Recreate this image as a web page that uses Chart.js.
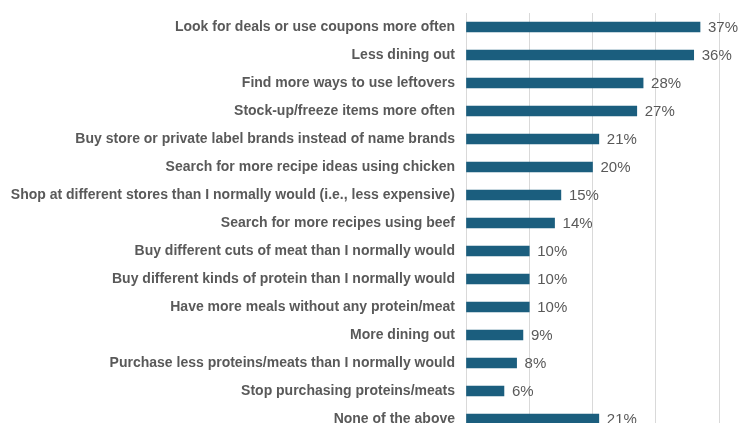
<!DOCTYPE html>
<html>
<head>
<meta charset="utf-8">
<script src="https://cdn.jsdelivr.net/npm/chart.js@4/dist/chart.umd.min.js"></script>
<style>
  html, body { margin: 0; padding: 0; background: #fff; overflow: hidden; }
  canvas { display: block; }
</style>
</head>
<body>
<canvas id="myChart" width="754" height="436"></canvas>
<script>
var labels = [
  'Look for deals or use coupons more often',
  'Less dining out',
  'Find more ways to use leftovers',
  'Stock-up/freeze items more often',
  'Buy store or private label brands instead of name brands',
  'Search for more recipe ideas using chicken',
  'Shop at different stores than I normally would (i.e., less expensive)',
  'Search for more recipes using beef',
  'Buy different cuts of meat than I normally would',
  'Buy different kinds of protein than I normally would',
  'Have more meals without any protein/meat',
  'More dining out',
  'Purchase less proteins/meats than I normally would',
  'Stop purchasing proteins/meats',
  'None of the above'
]
var values = [37, 36, 28, 27, 21, 20, 15, 14, 10, 10, 10, 9, 8, 6, 21]
var xTicks = [0, 10, 20, 30, 40]

// writes the percentage just past the end of each bar
var valueLabels = {
  id: 'valueLabels',
  afterDatasetsDraw: function (chart) {
    var ctx = chart.ctx
    var meta = chart.getDatasetMeta(0)
    ctx.save()
    ctx.font = '15px "Liberation Sans", Arial, sans-serif'
    ctx.fillStyle = '#595959'
    ctx.textAlign = 'left'
    ctx.textBaseline = 'middle'
    meta.data.forEach(function (bar, i) {
      ctx.fillText(values[i] + '%', bar.x + 8, bar.y + 1)
    })
    ctx.restore()
  }
}

var ctx = document.getElementById('myChart').getContext('2d')
var chart = new Chart(ctx, {
  type: 'bar',
  data: {
    labels: labels,
    datasets: [{
      data: values,
      backgroundColor: '#1b5e7e',
      barThickness: 10
    }]
  },
  options: {
    indexAxis: 'y',
    responsive: false,
    animation: false,
    layout: { padding: { top: 13, right: 35, bottom: 3, left: 0 } },
    plugins: {
      legend: { display: false },
      tooltip: { enabled: false }
    },
    scales: {
      x: {
        min: 0,
        max: 40,
        afterBuildTicks: function (axis) {
          axis.ticks = xTicks.map(function (v) { return { value: v } })
        },
        afterFit: function (axis) {
          axis.height = 0
          axis.paddingLeft = 0
          axis.paddingRight = 0
        },
        ticks: { display: false },
        grid: { color: '#d9d9d9', lineWidth: 1, drawTicks: false },
        border: { display: false }
      },
      y: {
        afterFit: function (axis) {
          axis.width = 466
          axis.paddingTop = 0
          axis.paddingBottom = 0
        },
        grid: { display: false, drawTicks: false },
        border: { color: '#d9d9d9' },
        ticks: {
          color: '#595959',
          padding: 11,
          autoSkip: false,
          font: { family: '"Liberation Sans", Arial, sans-serif', size: 14, weight: 'bold' }
        }
      }
    }
  },
  plugins: [valueLabels]
})
</script>
</body>
</html>
